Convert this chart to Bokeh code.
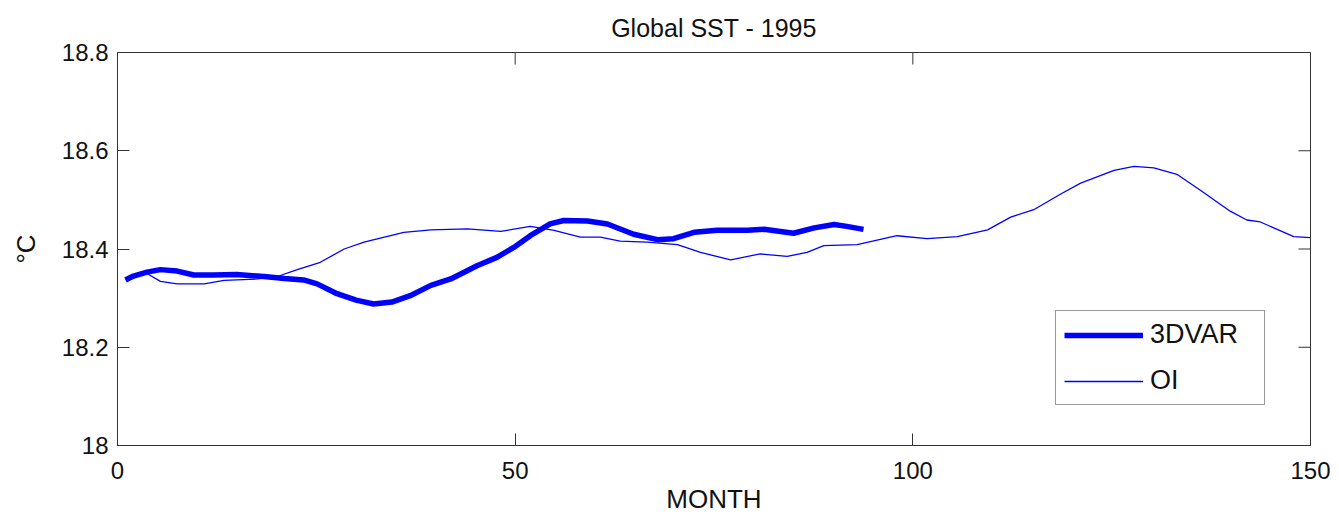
import math
from bokeh.plotting import figure
from bokeh.models import Range1d, FixedTicker, Title
from bokeh.embed import file_html
from bokeh.resources import INLINE

# ---- data ----
month_3dvar = [1, 2, 3.7, 5.4, 7.5, 9.6, 12, 15.0, 18.4, 21, 23.4, 25.1, 27.6, 30, 32.2, 34.5,
               36.8, 39.4, 41.9, 45.2, 47.7, 50, 51.9, 54.4, 56.1, 59.1, 61.6, 64.9, 67.9,
               69.9, 72.5, 75.4, 79.2, 81.3, 85.0, 87.6, 90.1, 91.7, 93.8]
sst_3dvar = [18.337, 18.345, 18.353, 18.358, 18.355, 18.347, 18.347, 18.348, 18.344, 18.340,
             18.337, 18.329, 18.309, 18.296, 18.288, 18.292, 18.305, 18.326, 18.339, 18.366,
             18.383, 18.405, 18.427, 18.451, 18.458, 18.457, 18.451, 18.430, 18.419, 18.421,
             18.434, 18.438, 18.438, 18.440, 18.432, 18.443, 18.450, 18.446, 18.440]

month_oi = [1, 3.7, 5.4, 7.5, 10.9, 13.4, 17.6, 20.1, 22.6, 25.5, 28.5, 31.0, 36.0, 39.4, 44.0,
            48.2, 51.9, 54.9, 58.2, 60.7, 63.2, 66.6, 70.4, 73.3, 77.1, 80.8, 84.2, 86.7, 88.8,
            93.0, 98.0, 101.8, 105.6, 109.4, 112.3, 115.2, 118.6, 121.1, 125.3, 127.8, 130.3,
            133.2, 136.2, 139.9, 142.0, 143.7, 147.9, 150]
sst_oi = [18.340, 18.350, 18.334, 18.329, 18.329, 18.336, 18.339, 18.344, 18.358, 18.373,
          18.400, 18.414, 18.434, 18.439, 18.441, 18.436, 18.446, 18.438, 18.424, 18.424,
          18.416, 18.414, 18.409, 18.393, 18.378, 18.390, 18.385, 18.393, 18.407, 18.409,
          18.427, 18.421, 18.425, 18.439, 18.465, 18.480, 18.512, 18.534, 18.560, 18.568,
          18.565, 18.552, 18.519, 18.477, 18.459, 18.455, 18.425, 18.423]

x_ticks = [0, 50, 100, 150]
y_ticks = [18.0, 18.2, 18.4, 18.6, 18.8]
y_tick_labels = ["18", "18.2", "18.4", "18.6", "18.8"]
x_min, x_max = 0, 150
y_min, y_max = 18.0, 18.8

FONT = "Liberation Sans"
AX = "#333333"
TXT = "#111111"

p = figure(width=1339, height=518, output_backend="svg", toolbar_location=None,
           x_range=Range1d(x_min, x_max), y_range=Range1d(y_min, y_max),
           min_border_left=117, min_border_right=29, min_border_top=52, min_border_bottom=73)

p.title = Title(text="Global SST - 1995", align="center", text_font=FONT,
                text_font_size="25px", text_font_style="normal", text_color=TXT,
                standoff=22)
p.title_location = "above"

p.line(month_3dvar, sst_3dvar, line_color="#0000ff", line_width=5.5, legend_label="3DVAR")
p.line(month_oi, sst_oi, line_color="#0000ff", line_width=1.3, legend_label="OI")

p.xgrid.visible = False
p.ygrid.visible = False
p.outline_line_color = AX
p.outline_line_width = 1
p.background_fill_color = "white"
p.border_fill_color = "white"

for ax in (p.xaxis[0], p.yaxis[0]):
    ax.axis_line_color = AX
    ax.major_tick_line_color = AX
    ax.major_tick_in = 12
    ax.major_tick_out = 0
    ax.minor_tick_line_color = None
    ax.major_label_text_font = FONT
    ax.major_label_text_font_size = "24px"
    ax.major_label_text_color = TXT
    ax.axis_label_text_font = FONT
    ax.axis_label_text_font_size = "26px"
    ax.axis_label_text_font_style = "normal"
    ax.axis_label_text_color = TXT

p.xaxis.ticker = FixedTicker(ticks=x_ticks)
p.yaxis.ticker = FixedTicker(ticks=y_ticks)
p.yaxis.major_label_overrides = {t: l for t, l in zip(y_ticks, y_tick_labels)}
p.xaxis.axis_label = "MONTH"
p.yaxis.axis_label = "°C"
p.xaxis.major_label_standoff = 16
p.xaxis.axis_label_standoff = 2
p.yaxis.major_label_standoff = 9
p.yaxis.axis_label_standoff = 18

# inward ticks on top and right edges of the box (MATLAB style)
p.ray(x=x_ticks, y=[y_max] * len(x_ticks), length=12, length_units="screen",
      angle=-math.pi / 2, line_color=AX, line_width=1)
p.ray(x=[x_max] * len(y_ticks), y=y_ticks, length=12, length_units="screen",
      angle=math.pi, line_color=AX, line_width=1)

lg = p.legend[0]
lg.location = (938, 40)
lg.margin = 0
lg.padding = 8
lg.spacing = 15
lg.glyph_width = 79
lg.glyph_height = 20
lg.label_height = 20
lg.label_width = 106
lg.label_standoff = 7
lg.label_text_font = FONT
lg.label_text_font_size = "27px"
lg.label_text_color = TXT
lg.border_line_color = AX
lg.border_line_width = 1
lg.background_fill_color = "white"
lg.background_fill_alpha = 1.0

open("out.html", "w").write(file_html(p, INLINE))
